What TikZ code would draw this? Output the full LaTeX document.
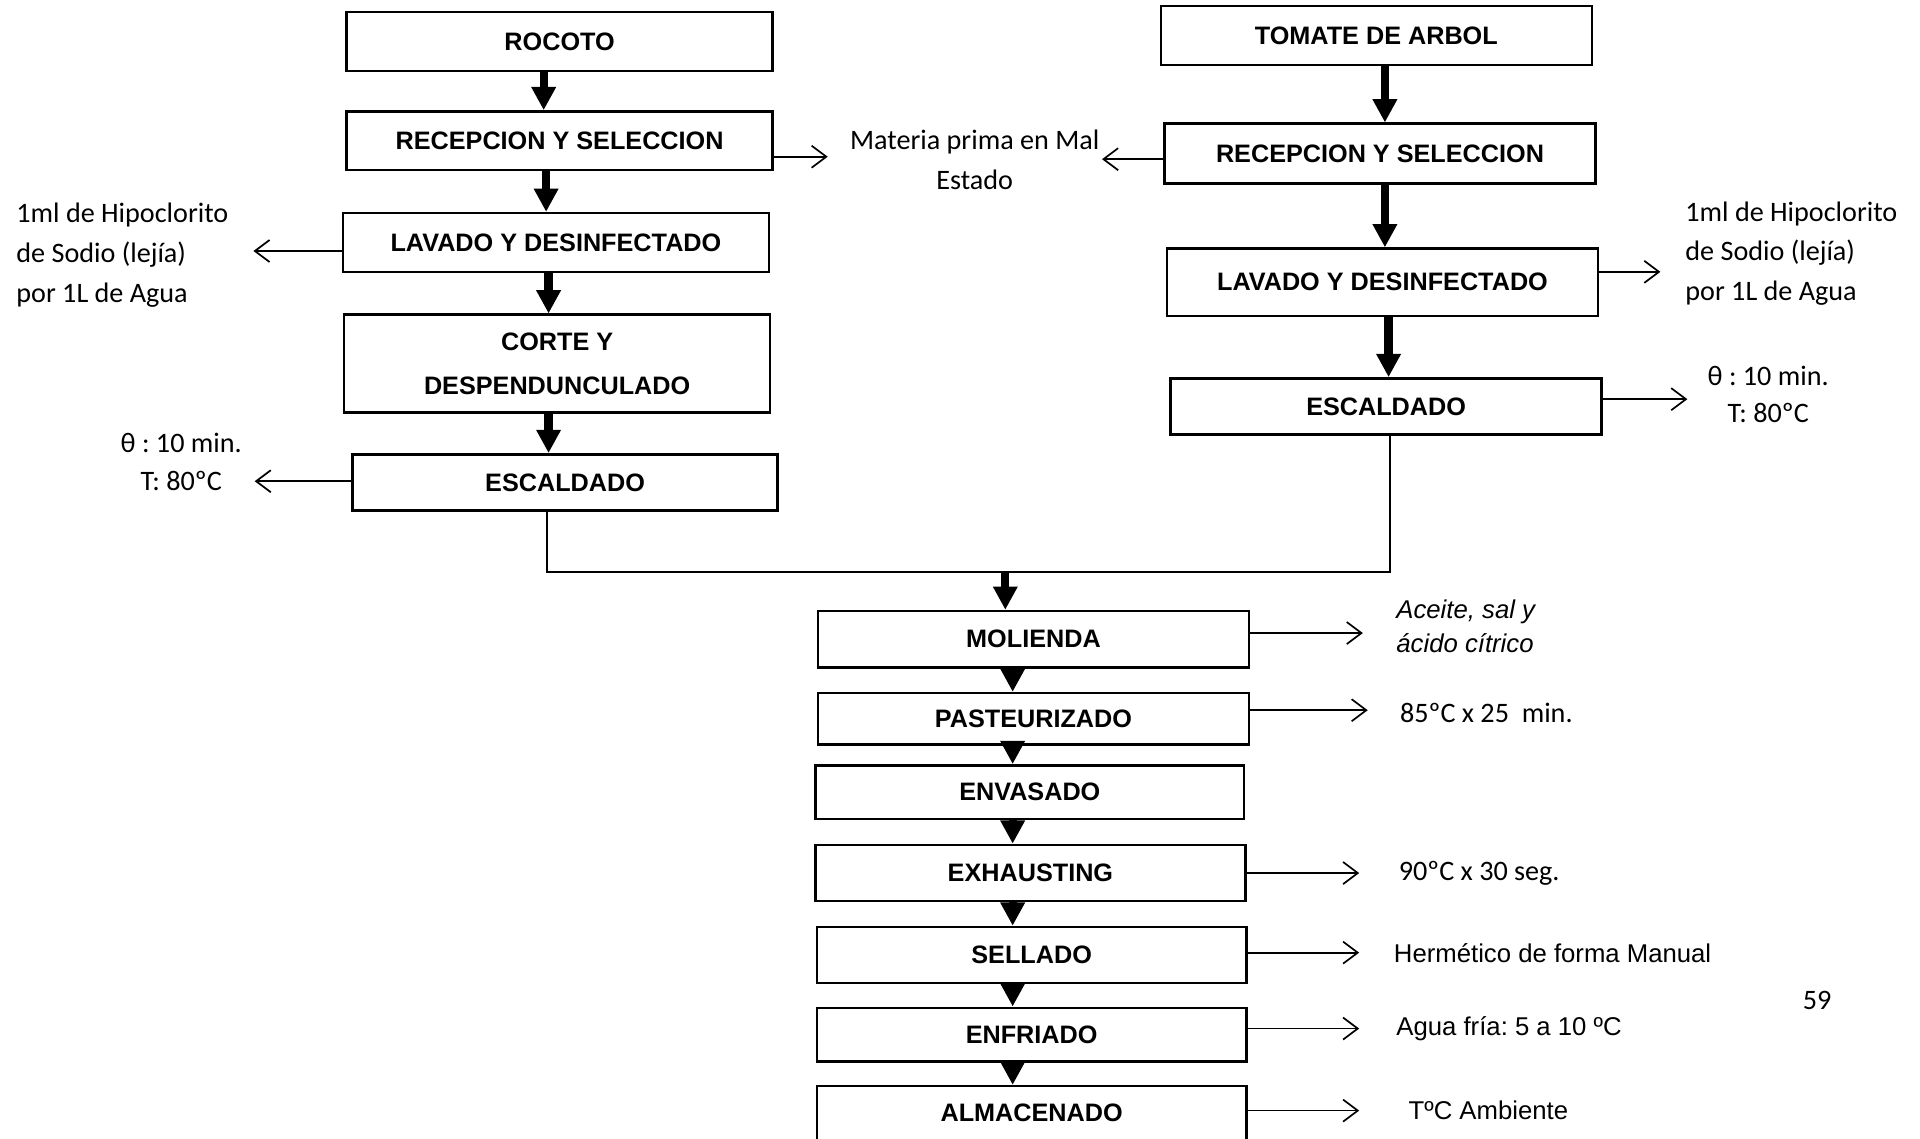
\documentclass[tikz,border=0pt]{standalone}
\usepackage{fontspec}
\setmainfont{Liberation Sans}
\newfontfamily\calibri{Carlito}
\usetikzlibrary{arrows.meta}
\frenchspacing
\tikzset{
  box/.style={draw, line width=1pt, inner sep=0pt, align=center,
    font=\bfseries\fontsize{10.3}{18}\selectfont},
  tarrow/.style={line width=3.4pt, -{Triangle[length=9.5pt,width=9.5pt]}},
  side/.style={line width=0.7pt, -{Straight Barb[length=6pt,width=9pt]}},
  joinline/.style={line width=0.7pt},
  clab/.style={inner sep=0pt, font=\calibri\fontsize{11.5}{16.25}\selectfont},
  alab/.style={inner sep=0pt, anchor=west, font=\fontsize{10.5}{13.5}\selectfont},
}
\begin{document}
\begin{tikzpicture}[x=0.5pt,y=-0.5pt]
\useasboundingbox (0,0) rectangle (1568,930);
\clip (0,0) rectangle (1568,930);
\fill[white] (0,0) rectangle (1568,930);

% left column
\node[box, minimum width=174pt, minimum height=24pt] (rocoto) at (457,34) {ROCOTO};
\node[box, minimum width=174pt, minimum height=24pt] (recL) at (457,115) {RECEPCION Y SELECCION};
\node[box, minimum width=174pt, minimum height=24pt] (lavL) at (454,198) {LAVADO Y DESINFECTADO};
\node[box, minimum width=174pt, minimum height=40pt] (corte) at (455,297) {CORTE Y\\DESPENDUNCULADO};
\node[box, minimum width=173.5pt, minimum height=23pt] (escL) at (461.5,394) {ESCALDADO};

% right column
\node[box, minimum width=176pt, minimum height=24pt] (tomate) at (1124,29) {TOMATE DE ARBOL};
\node[box, minimum width=176pt, minimum height=24.5pt] (recR) at (1127,125.5) {RECEPCION Y SELECCION};
\node[box, minimum width=176pt, minimum height=27.5pt] (lavR) at (1129,230.5) {LAVADO Y DESINFECTADO};
\node[box, minimum width=176pt, minimum height=23pt] (escR) at (1132,332) {ESCALDADO};

% common column
\node[box, minimum width=176pt, minimum height=23pt] (mol) at (844,522) {MOLIENDA};
\node[box, minimum width=176pt, minimum height=21pt] (pas) at (844,587) {PASTEURIZADO};
\node[box, minimum width=175pt, minimum height=22pt] (env) at (841,647) {ENVASADO};
\node[box, minimum width=175.5pt, minimum height=23pt] (exh) at (841.5,713) {EXHAUSTING};
\node[box, minimum width=175.5pt, minimum height=23pt] (sel) at (842.5,780) {SELLADO};
\node[box, minimum width=175.5pt, minimum height=22pt] (enf) at (842.5,845) {ENFRIADO};
\node[box, minimum width=175.5pt, minimum height=22pt] (alm) at (842.5,909) {ALMACENADO};

% x positions of the main arrows
\coordinate (xa) at (444,0);
\coordinate (xb) at (446,0);
\coordinate (xc) at (448,0);
\coordinate (xr1) at (1131,0);
\coordinate (xr2) at (1134,0);
\coordinate (xm) at (827,0);

\draw[tarrow] (rocoto.south -| xa) -- (recL.north -| xa);
\draw[tarrow] (recL.south -| xb) -- (lavL.north -| xb);
\draw[tarrow] (lavL.south -| xc) -- (corte.north -| xc);
\draw[tarrow] (corte.south -| xc) -- (escL.north -| xc);

\draw[tarrow] (tomate.south -| xr1) -- (recR.north -| xr1);
\draw[tarrow] (recR.south -| xr1) -- (lavR.north -| xr1);
\draw[tarrow] (lavR.south -| xr2) -- (escR.north -| xr2);

% join
\coordinate (jL) at (447,467);
\coordinate (jR) at (1135,467);
\coordinate (jM) at (821,467);
\draw[joinline] (escL.south -| jL) -- (jL) -- (jR) -- (escR.south -| jR);
\draw[tarrow] (jM) -- (mol.north -| jM);

\draw[tarrow] (mol.south -| xm) -- (pas.north -| xm);
\draw[tarrow] (pas.south -| xm) -- (env.north -| xm);
\draw[tarrow] (env.south -| xm) -- (exh.north -| xm);
\draw[tarrow] (exh.south -| xm) -- (sel.north -| xm);
\draw[tarrow] (sel.south -| xm) -- (enf.north -| xm);
\draw[tarrow] (enf.south -| xm) -- (alm.north -| xm);

% side labels
\node[clab, align=center] (mp) at (796,130.5) {Materia prima en Mal\\Estado};
\node[clab, align=left, anchor=west] (hipL) at (13,208.5) {1ml de Hipoclorito\\de Sodio (lejía)\\por 1L de Agua};
\node[clab, align=left, anchor=west] (hipR) at (1376,207) {1ml de Hipoclorito\\de Sodio (lejía)\\por 1L de Agua};
\node[clab, align=center, font=\calibri\fontsize{11.5}{15.5}\selectfont] (tL) at (148,377.5) {θ : 10 min.\\T: 80ºC};
\node[clab, align=center, font=\calibri\fontsize{11.5}{15}\selectfont] (tR) at (1444,322) {θ : 10 min.\\T: 80ºC};

\node[alab, align=left, font=\itshape\fontsize{10.5}{13.5}\selectfont] (ace) at (1140,511.5) {Aceite, sal y\\ácido cítrico};
\node[clab, anchor=west] (p85) at (1143,582) {85ºC x 25\ \ min.};
\node[clab, anchor=west] (p90) at (1142,713) {90ºC x 30 seg.};
\node[alab] (herm) at (1138,778) {Hermético de forma Manual};
\node[alab] (agua) at (1140,840) {Agua fría: 5 a 10 ºC};
\node[alab] (amb) at (1150,907) {TºC Ambiente};
\node[clab] (pg) at (1484,817) {59};

% side arrow ends
\coordinate (e1) at (676,128);
\coordinate (e2) at (900,130);
\coordinate (e3) at (207,205);
\coordinate (e4) at (1356,222);
\coordinate (e5) at (208,393);
\coordinate (e6) at (1378,326);
\coordinate (e7) at (1113,517);
\coordinate (e8) at (1117,580);
\coordinate (e9) at (1110,713);
\coordinate (e10) at (1110,778);
\coordinate (e11) at (1110,840);
\coordinate (e12) at (1110,907);

\draw[side] (recL.east |- e1) -- (e1);
\draw[side] (recR.west |- e2) -- (e2);
\draw[side] (lavL.west |- e3) -- (e3);
\draw[side] (lavR.east |- e4) -- (e4);
\draw[side] (escL.west |- e5) -- (e5);
\draw[side] (escR.east |- e6) -- (e6);
\draw[side] (mol.east |- e7) -- (e7);
\draw[side] (pas.east |- e8) -- (e8);
\draw[side] (exh.east |- e9) -- (e9);
\draw[side] (sel.east |- e10) -- (e10);
\draw[side] (enf.east |- e11) -- (e11);
\draw[side] (alm.east |- e12) -- (e12);
\end{tikzpicture}
\end{document}
